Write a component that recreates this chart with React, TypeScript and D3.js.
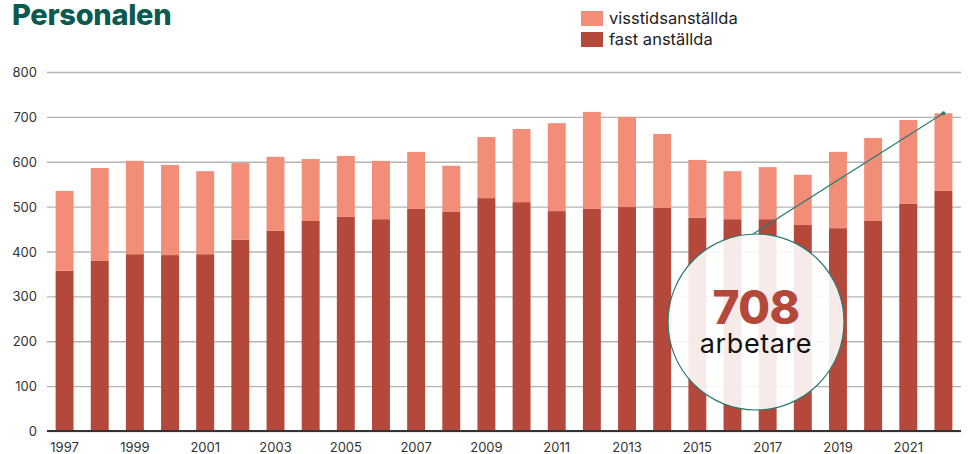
import * as d3 from 'd3';
import { useEffect, useRef } from 'react';

const years = [
    1997, 1998, 1999, 2000, 2001, 2002, 2003, 2004, 2005, 2006, 2007, 2008, 2009,
    2010, 2011, 2012, 2013, 2014, 2015, 2016, 2017, 2018, 2019, 2020, 2021, 2022,
];
const fastAnstallda = [
    357, 379, 394, 392, 394, 426, 446, 468, 477, 472, 495, 488, 519, 510, 490, 495,
    499, 497, 475, 472, 472, 459, 452, 468, 506, 535,
];
const visstidsAnstallda = [
    178, 207, 208, 201, 185, 171, 165, 138, 136, 130, 127, 103, 136, 163, 196, 216,
    201, 165, 129, 107, 116, 112, 170, 185, 187, 173,
];
const yTicks = [0, 100, 200, 300, 400, 500, 600, 700, 800];
const seriesNames = ['visstidsanställda', 'fast anställda'];
const calloutLabel = 'arbetare';

const WIDTH = 971;
const HEIGHT = 454;
const FONT = 'Inter, "Open Sans", sans-serif';
const C_FAST = '#b4483a';
const C_VISS = '#f28d77';
const C_TEAL = '#2b7a70';

export default function App() {
    const axesRef = useRef<SVGGElement>(null);

    const x = d3
        .scaleBand<number>()
        .domain(years)
        .range([47, 961])
        .paddingInner(0.49)
        .paddingOuter(0.245);
    const y = d3.scaleLinear().domain([0, 800]).range([431, 72]);

    const rows = years.map((yr, i) => ({
        year: yr,
        fast: fastAnstallda[i],
        viss: visstidsAnstallda[i],
    }));
    const stack = d3.stack<(typeof rows)[number]>().keys(['fast', 'viss'])(rows);

    const last = rows[rows.length - 1];
    const lastTotal = last.fast + last.viss;

    useEffect(() => {
        const g = d3.select(axesRef.current);
        g.selectAll('*').remove();

        const yAxis = d3
            .axisLeft(y)
            .tickValues(yTicks)
            .tickSize(-(961 - 47))
            .tickPadding(10)
            .tickFormat(d3.format('d'));
        const ya = g.append('g').attr('transform', 'translate(47,0)').call(yAxis);
        ya.select('.domain').remove();
        ya.selectAll('.tick line').attr('stroke', '#b4b4b4').attr('stroke-width', 1.3);
        ya.selectAll('.tick text')
            .attr('fill', '#333')
            .attr('font-size', 13)
            .attr('font-family', FONT)
            .attr('dy', '0.35em');

        const xAxis = d3
            .axisBottom(x)
            .tickValues(years.filter((d) => d % 2 === 1))
            .tickSize(0)
            .tickPadding(12)
            .tickFormat((d) => String(d));
        const xa = g.append('g').attr('transform', 'translate(0,431)').call(xAxis);
        xa.select('.domain').remove();
        xa.selectAll('.tick text')
            .attr('fill', '#333')
            .attr('font-size', 13)
            .attr('font-family', FONT);
    }, []);

    const cx = 756;
    const cy = 322;
    const r = 88;
    const endX = (x(last.year) ?? 0) + x.bandwidth() / 2;
    const endY = y(lastTotal);

    return (
        <svg
            width={WIDTH}
            height={HEIGHT}
            style={{ position: 'absolute', left: 0, top: 0 }}
            fontFamily={FONT}
        >
            <g ref={axesRef} />
            {stack.map((s) => (
                <g key={s.key} fill={s.key === 'fast' ? C_FAST : C_VISS}>
                    {s.map((d) => (
                        <rect
                            key={d.data.year}
                            x={x(d.data.year)}
                            width={x.bandwidth()}
                            y={y(d[1])}
                            height={y(d[0]) - y(d[1])}
                        />
                    ))}
                </g>
            ))}
            <line x1={47} x2={961} y1={431} y2={431} stroke="#333" strokeWidth={2} />

            {/* title + legend */}
            <text x={12} y={25} fontSize={29} fontWeight={800} fill="#0c5a4f" letterSpacing={-0.3}>
                Personalen
            </text>
            {seriesNames.map((name, i) => (
                <g key={name} transform={`translate(581,${11 + i * 21})`}>
                    <rect width={22} height={15} fill={i === 0 ? C_VISS : C_FAST} />
                    <text x={28} y={13} fontSize={16.5} fill="#222">
                        {name}
                    </text>
                </g>
            ))}

            {/* callout */}
            <line x1={753} y1={cy - r} x2={endX} y2={endY} stroke={C_TEAL} strokeWidth={1.2} />
            <circle cx={endX} cy={endY} r={2} fill={C_TEAL} />
            <circle cx={cx} cy={cy} r={r} fill="#fff" fillOpacity={0.89} stroke={C_TEAL} strokeWidth={1.2} />
            <text x={cx} y={324} textAnchor="middle" fontSize={46} fontWeight={800} fill={C_FAST} letterSpacing={-0.5}>
                {lastTotal}
            </text>
            <text x={cx} y={353} textAnchor="middle" fontSize={27} fill="#111" letterSpacing={0.6}>
                {calloutLabel}
            </text>
        </svg>
    );
}
